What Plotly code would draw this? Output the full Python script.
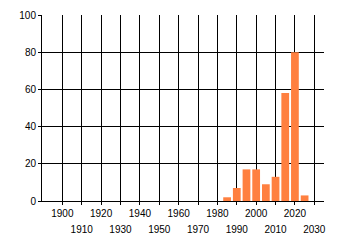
import plotly.graph_objects as go

years = [1985, 1990, 1995, 2000, 2005, 2010, 2015, 2020, 2025]
counts = [2, 7, 17, 17, 9, 13, 58, 80, 3]
even_ticks = [1900, 1920, 1940, 1960, 1980, 2000, 2020]
odd_ticks = [1910, 1930, 1950, 1970, 1990, 2010, 2030]
y_ticks = [0, 20, 40, 60, 80, 100]

font = dict(family="Liberation Sans", size=10, color="black")

fig = go.Figure()
fig.add_trace(go.Bar(x=years, y=counts, marker=dict(color="#FF8040", line=dict(width=0)), xaxis="x", yaxis="y"))
# invisible trace to bind second x-axis
fig.add_trace(go.Scatter(x=[None], y=[None], xaxis="x2", yaxis="y", showlegend=False, hoverinfo="skip"))

xr = [1889.5, 2035]
fig.update_layout(
    width=340, height=245,
    margin=dict(l=42, r=16, t=15, b=44),
    paper_bgcolor="white", plot_bgcolor="white",
    showlegend=False, bargap=0.2,
    font=font,
    xaxis=dict(range=xr, tickmode="array", tickvals=even_ticks, ticktext=[str(v) for v in even_ticks],
               showgrid=True, gridcolor="black", gridwidth=1, ticks="outside", ticklen=3, tickcolor="black",
               showline=True, linecolor="black", linewidth=1, zeroline=False, tickfont=font, automargin=False),
    xaxis2=dict(range=xr, overlaying="x", side="bottom", anchor="y", tickmode="array", tickvals=odd_ticks,
                ticktext=[str(v) for v in odd_ticks], showgrid=True, gridcolor="black", gridwidth=1,
                ticks="outside", ticklen=3, tickcolor="black", showline=False, zeroline=False,
                ticklabelstandoff=16, tickfont=font, automargin=False),
    yaxis=dict(range=[0, 100], tickmode="array", tickvals=y_ticks, showgrid=True, gridcolor="black", gridwidth=1,
               ticks="outside", ticklen=3, tickcolor="black", showline=True, linecolor="black", linewidth=1,
               zeroline=False, tickfont=font, automargin=False),
)
fig.write_html("out.html")
